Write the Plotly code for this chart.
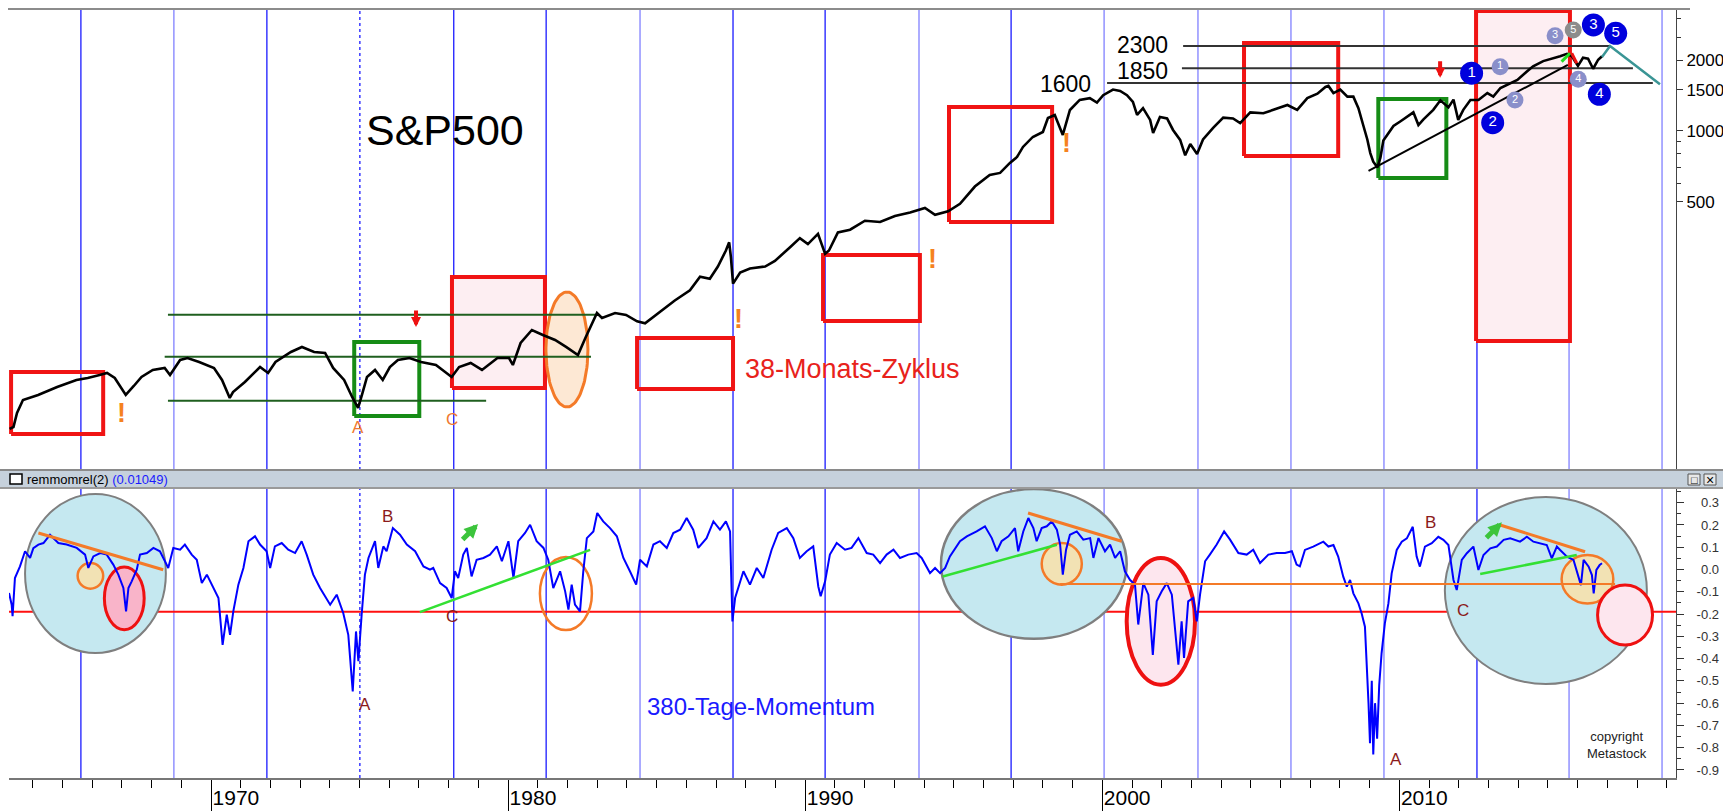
import numpy as np
import plotly.graph_objects as go

# ---------------- data ----------------
price_years = [1963.22, 1963.35, 1963.47, 1963.67, 1964.18, 1964.82, 1965.47, 1965.85, 1966.25, 1966.50,
               1966.76, 1967.13, 1967.40, 1967.66, 1968.04, 1968.44, 1968.62, 1968.96, 1969.21, 1969.60,
               1970.10, 1970.37, 1970.63, 1970.74, 1971.14, 1971.65, 1971.92, 1972.17, 1972.69, 1973.06,
               1973.47, 1973.84, 1974.11, 1974.48, 1974.75, 1974.95, 1975.08, 1975.25, 1975.52, 1975.78,
               1976.02, 1976.29, 1976.68, 1977.07, 1977.57, 1978.10, 1978.35, 1978.74, 1979.12, 1979.64,
               1980.03, 1980.16, 1980.42, 1980.80, 1981.17, 1981.58, 1981.95, 1982.35, 1982.60, 1982.99,
               1983.16, 1983.60, 1983.97, 1984.34, 1984.61, 1985.11, 1985.61, 1986.12, 1986.46, 1986.79,
               1987.06, 1987.33, 1987.44, 1987.50, 1987.57, 1987.81, 1988.14, 1988.65, 1988.98, 1989.49,
               1989.82, 1990.09, 1990.43, 1990.67, 1990.80, 1991.10, 1991.51, 1992.01, 1992.52, 1993.02,
               1993.53, 1994.03, 1994.37, 1994.81, 1995.21, 1995.71, 1996.21, 1996.56, 1996.89, 1997.13,
               1997.33, 1997.66, 1998.00, 1998.17, 1998.40, 1998.67, 1998.91, 1999.24, 1999.58, 1999.82,
               2000.03, 2000.36, 2000.60, 2000.83, 2001.03, 2001.17, 2001.37, 2001.61, 2001.71, 2001.94,
               2002.18, 2002.38, 2002.62, 2002.79, 2002.96, 2003.19, 2003.39, 2003.73, 2004.07, 2004.40,
               2004.64, 2004.98, 2005.42, 2005.76, 2006.23, 2006.56, 2006.90, 2007.24, 2007.51, 2007.61,
               2007.78, 2008.01, 2008.25, 2008.45, 2008.62, 2008.79, 2008.92, 2009.02, 2009.12, 2009.26,
               2009.36, 2009.46, 2009.80, 2010.04, 2010.27, 2010.47, 2010.64, 2010.81, 2011.14, 2011.38,
               2011.65, 2011.82, 2011.98, 2012.15, 2012.39, 2012.66, 2012.96, 2013.16, 2013.40, 2013.73,
               2013.97, 2014.30, 2014.50, 2014.84, 2015.17, 2015.41, 2015.64, 2015.81, 2015.91, 2016.01,
               2016.18, 2016.35, 2016.52, 2016.69, 2016.82]
price_values = [54.0, 55.0, 63.1, 71.7, 75.3, 81.4, 87.2, 88.9, 91.5, 93.4,
                88.9, 75.3, 82.2, 89.8, 96.2, 98.1, 91.5, 106.1, 108.1, 104.0,
                98.1, 87.2, 73.1, 77.5, 85.5, 99.0, 93.4, 104.0, 114.7, 120.5,
                114.7, 113.6, 98.1, 87.2, 73.8, 66.3, 75.3, 89.8, 96.2, 87.2,
                99.0, 106.1, 108.1, 104.0, 101.0, 89.8, 99.0, 103.0, 96.2, 108.1,
                108.1, 101.0, 125.3, 142.3, 135.5, 129.0, 120.5, 111.4, 131.5, 168.1,
                160, 168, 165, 155, 152, 170, 190, 210, 240, 235,
                265, 310, 336, 290, 224, 250, 260, 265, 280, 320,
                350, 330, 365, 300, 310, 370, 380, 415, 410, 435,
                450, 470, 440, 455, 490, 580, 650, 663, 731, 775,
                855, 943, 990, 1135, 1170, 962, 1228, 1355, 1380, 1320,
                1420, 1500, 1480, 1420, 1330, 1170, 1250, 1114, 980, 1147,
                1130, 1010, 916, 788, 880, 798, 920, 1030, 1140, 1130,
                1081, 1200, 1190, 1230, 1290, 1230, 1380, 1440, 1540, 1555,
                1450, 1500, 1400, 1400, 1250, 1050, 920, 805, 740, 700,
                770, 910, 1050, 1100, 1150, 1200, 1060, 1120, 1230, 1350,
                1260, 1360, 1114, 1230, 1355, 1355, 1450, 1400, 1524, 1600,
                1649, 1794, 1886, 1983, 2030, 2080, 2130, 2080, 1980, 1893,
                2050, 2030, 1840, 2010, 2080]

mom_years = [1963.20, 1963.29, 1963.32, 1963.40, 1963.57, 1963.74, 1963.91, 1964.02, 1964.19, 1964.36,
             1964.58, 1964.86, 1965.14, 1965.48, 1965.76, 1965.87, 1966.04, 1966.27, 1966.49, 1966.71,
             1966.88, 1967.05, 1967.14, 1967.22, 1967.33, 1967.50, 1967.61, 1967.84, 1968.06, 1968.28,
             1968.45, 1968.56, 1968.73, 1968.96, 1969.12, 1969.35, 1969.52, 1969.69, 1969.86, 1970.08,
             1970.25, 1970.39, 1970.53, 1970.64, 1970.75, 1970.92, 1971.09, 1971.26, 1971.48, 1971.65,
             1971.87, 1971.99, 1972.15, 1972.38, 1972.60, 1972.83, 1973.05, 1973.22, 1973.44, 1973.67,
             1974.01, 1974.23, 1974.45, 1974.62, 1974.77, 1974.88, 1974.96, 1975.07, 1975.18, 1975.30,
             1975.52, 1975.63, 1975.80, 1975.91, 1976.12, 1976.36, 1976.59, 1976.87, 1977.15, 1977.37,
             1977.48, 1977.71, 1977.93, 1978.10, 1978.21, 1978.32, 1978.49, 1978.61, 1978.77, 1978.94,
             1979.17, 1979.39, 1979.62, 1979.79, 1980.01, 1980.18, 1980.34, 1980.57, 1980.74, 1980.96,
             1981.19, 1981.35, 1981.52, 1981.75, 1981.92, 1982.03, 1982.14, 1982.25, 1982.42, 1982.53,
             1982.65, 1982.87, 1983.00, 1983.20, 1983.43, 1983.66, 1983.88, 1984.10, 1984.31, 1984.44,
             1984.67, 1984.89, 1985.11, 1985.34, 1985.56, 1985.79, 1986.01, 1986.23, 1986.40, 1986.68,
             1986.91, 1987.13, 1987.33, 1987.47, 1987.55, 1987.64, 1987.75, 1987.92, 1988.14, 1988.37,
             1988.59, 1988.70, 1988.87, 1989.09, 1989.38, 1989.60, 1989.82, 1990.05, 1990.27, 1990.44,
             1990.52, 1990.67, 1990.83, 1991.06, 1991.34, 1991.56, 1991.79, 1992.07, 1992.29, 1992.52,
             1992.74, 1992.97, 1993.19, 1993.47, 1993.75, 1993.92, 1994.09, 1994.20, 1994.37, 1994.54,
             1994.71, 1994.87, 1995.21, 1995.44, 1995.77, 1996.05, 1996.28, 1996.45, 1996.61, 1996.84,
             1997.06, 1997.17, 1997.34, 1997.51, 1997.68, 1997.79, 1997.96, 1998.13, 1998.30, 1998.47,
             1998.58, 1998.67, 1998.78, 1998.91, 1999.14, 1999.36, 1999.59, 1999.70, 1999.87, 2000.09,
             2000.26, 2000.43, 2000.60, 2000.76, 2000.93, 2001.10, 2001.21, 2001.38, 2001.55, 2001.70,
             2001.83, 2002.00, 2002.17, 2002.34, 2002.56, 2002.67, 2002.75, 2002.89, 2003.06, 2003.18,
             2003.29, 2003.46, 2003.62, 2003.85, 2004.10, 2004.30, 2004.58, 2004.86, 2005.08, 2005.31,
             2005.59, 2005.87, 2006.15, 2006.38, 2006.54, 2006.65, 2006.82, 2007.10, 2007.44, 2007.61,
             2007.78, 2007.94, 2008.11, 2008.23, 2008.34, 2008.45, 2008.62, 2008.73, 2008.84, 2008.90,
             2008.96, 2009.01, 2009.07, 2009.12, 2009.18, 2009.25, 2009.32, 2009.40, 2009.51, 2009.63,
             2009.74, 2009.91, 2010.08, 2010.25, 2010.45, 2010.58, 2010.69, 2010.86, 2011.09, 2011.31,
             2011.48, 2011.65, 2011.82, 2011.93, 2012.10, 2012.27, 2012.49, 2012.66, 2012.83, 2013.06,
             2013.28, 2013.51, 2013.73, 2014.06, 2014.29, 2014.51, 2014.74, 2014.96, 2015.13, 2015.30,
             2015.41, 2015.64, 2015.86, 2016.03, 2016.11, 2016.20, 2016.37, 2016.48, 2016.54, 2016.63,
             2016.74, 2016.82]
mom_values = [-0.105, -0.158, -0.210, -0.038, 0.014, 0.082, 0.052, 0.096, 0.112, 0.119,
              0.156, 0.119, 0.112, 0.097, 0.067, 0.007, 0.059, 0.074, 0.067, 0.022,
              -0.023, -0.083, -0.188, -0.083, -0.053, -0.001, 0.067, 0.074, 0.097, 0.082,
              0.037, 0.007, 0.097, 0.089, 0.112, 0.067, 0.044, -0.061, -0.023, -0.083,
              -0.128, -0.338, -0.203, -0.293, -0.188, -0.068, 0.007, 0.127, 0.149, 0.112,
              0.082, 0.007, 0.104, 0.119, 0.089, 0.074, 0.127, 0.067, -0.023, -0.083,
              -0.158, -0.113, -0.195, -0.293, -0.547, -0.278, -0.412, -0.203, -0.023, 0.052,
              0.127, 0.007, 0.104, 0.082, 0.186, 0.156, 0.112, 0.082, 0.014, -0.001,
              0.007, -0.061, -0.083, -0.128, -0.008, -0.038, 0.067, 0.097, -0.031, 0.044,
              0.052, 0.067, 0.104, 0.037, 0.127, -0.038, 0.127, 0.164, 0.201, 0.127,
              0.097, 0.044, -0.083, -0.008, -0.098, -0.180, -0.068, -0.158, -0.188, -0.008,
              0.141, 0.171, 0.254, 0.216, 0.186, 0.149, 0.052, -0.008, -0.068, 0.044,
              0.014, 0.112, 0.127, 0.097, 0.164, 0.179, 0.231, 0.179, 0.097, 0.141,
              0.216, 0.179, 0.216, 0.171, -0.233, -0.128, -0.083, -0.008, -0.068, 0.007,
              -0.038, 0.014, 0.089, 0.164, 0.186, 0.141, 0.052, 0.082, 0.104, -0.076,
              -0.120, -0.053, 0.067, 0.119, 0.089, 0.097, 0.141, 0.074, 0.067, 0.029,
              0.067, 0.089, 0.052, 0.067, 0.074, 0.052, 0.007, -0.016, 0.007, -0.016,
              0.007, 0.059, 0.127, 0.149, 0.171, 0.194, 0.141, 0.082, 0.127, 0.149,
              0.186, 0.082, 0.171, 0.231, 0.186, 0.127, 0.186, 0.194, 0.216, 0.179,
              0.112, -0.023, 0.089, 0.156, 0.171, 0.134, 0.141, 0.052, 0.141, 0.082,
              0.112, 0.052, 0.082, -0.008, -0.046, -0.068, -0.247, -0.061, -0.113, -0.383,
              -0.143, -0.098, -0.061, -0.113, -0.427, -0.233, -0.397, -0.143, -0.128, -0.233,
              -0.113, 0.037, 0.067, 0.112, 0.171, 0.134, 0.074, 0.067, 0.089, 0.029,
              0.067, 0.074, 0.074, 0.082, 0.022, 0.014, 0.088, 0.103, 0.125, 0.103,
              0.110, 0.058, -0.032, -0.077, -0.047, -0.107, -0.152, -0.197, -0.257, -0.410,
              -0.600, -0.780, -0.500, -0.830, -0.600, -0.760, -0.520, -0.376, -0.242, -0.152,
              -0.017, 0.088, 0.125, 0.140, 0.192, 0.058, 0.013, 0.103, 0.118, 0.147,
              0.133, 0.110, -0.047, -0.092, 0.043, 0.073, 0.103, -0.002, 0.065, 0.095,
              0.103, 0.133, 0.140, 0.125, 0.147, 0.125, 0.118, 0.110, 0.050, 0.103,
              0.088, 0.058, 0.043, -0.032, -0.070, 0.043, 0.013, -0.025, -0.107, -0.002,
              0.020, 0.028]

cycle_years = [1965.62, 1968.75, 1971.88, 1975.01, 1978.17, 1981.28, 1984.44, 1987.57, 1990.67,
               1993.83, 1996.93, 2000.06, 2003.22, 2006.35, 2009.48, 2012.61, 2015.71, 2018.84]
cycle_light = [False, True, False, False, False, False, True, False, False,
               True, False, True, True, True, True, False, True, True]
cycle_dotted = [False, False, False, True] + [False] * 14

year_ticks = [1970, 1980, 1990, 2000, 2010]
year_labels = ["1970", "1980", "1990", "2000", "2010"]
price_ticks = [500, 1000, 1500, 2000]
price_labels = ["500", "1000", "1500", "2000"]
mom_ticks = [0.3, 0.2, 0.1, 0.0, -0.1, -0.2, -0.3, -0.4, -0.5, -0.6, -0.7, -0.8, -0.9]

level_values = [2300, 1850, 1600]
level_start = [2002.72, 2002.68, 2000.16]
level_end = [2017.09, 2017.86, 2018.53]
level_labels = ["2300", "1850", "1600"]
level_label_x = [2002.28, 2002.28, 1999.69]

channel_values = [165.3, 109.5, 71.2]
channel_start = [1968.55, 1968.44, 1968.55]
channel_end = [1982.96, 1982.79, 1979.26]

box_x0 = [1963.27, 1974.82, 1978.11, 1984.34, 1990.60, 1994.84, 2004.77, 2009.29, 2012.58]
box_x1 = [1966.37, 1977.01, 1981.24, 1987.57, 1993.86, 1998.31, 2007.94, 2011.58, 2015.74]
box_low = [51.4, 61.3, 80.6, 79.8, 155.4, 410.1, 782.8, 631, 127.8]
box_high = [94.3, 126.5, 239.2, 131.5, 296.8, 1265.6, 2368, 1368, 3240]
box_kind = ["red", "green", "pink", "red", "red", "red", "red", "green", "pink"]

trend_years = [2008.96, 2015.67]
trend_values = [676, 1909]
proj_years = [2016.82, 2017.09, 2018.77]
proj_values = [2065, 2300, 1580]

wave_blue_years = [2012.43, 2013.14, 2016.53, 2016.73, 2017.28]
wave_blue_values = [1761, 1085, 2825, 1433, 2604]
wave_blue_labels = ["1", "2", "3", "4", "5"]
wave_light_years = [2013.39, 2013.89, 2015.24, 2016.02]
wave_light_values = [1878, 1355, 2544, 1660]
wave_light_labels = ["1", "2", "3", "4"]
wave_gray_years = [2015.85]
wave_gray_values = [2690]
wave_gray_labels = ["5"]

# ---------------- layout helpers ----------------
W, H = 1723, 811
ML, MR, MT, MB = 9, 47, 0, 33
PW, PH = W - ML - MR, H - MT - MB
def px(x):
    return (x - ML) / PW
def py(y):
    return 1 - (y - MT) / PH

FONT = "Arial, Liberation Sans, sans-serif"
RED = "#f01414"
GREEN = "#168c16"
PINK = "#fdeef2"

fig = go.Figure()

# top panel boxes (drawn under the price line)
for x0, x1, lo, hi, kind in zip(box_x0, box_x1, box_low, box_high, box_kind):
    col = GREEN if kind == "green" else RED
    fig.add_trace(go.Scatter(
        x=[x0, x1, x1, x0, x0], y=[lo, lo, hi, hi, lo], mode="lines",
        line=dict(color=col, width=4), fill="toself" if kind == "pink" else None,
        fillcolor=PINK, hoverinfo="skip", showlegend=False, xaxis="x", yaxis="y"))

# orange ellipse (1981/82)
t = np.linspace(0, 2 * np.pi, 100)
ell_x = 1981.98 + 0.707 * np.cos(t)
ell_y = 10 ** (2.0702 + 0.2447 * np.sin(t))
fig.add_trace(go.Scatter(x=ell_x, y=ell_y, mode="lines", line=dict(color="#f47a28", width=3),
                         fill="toself", fillcolor="rgba(253,228,205,0.85)", hoverinfo="skip",
                         showlegend=False, xaxis="x", yaxis="y"))

# channel lines (dark green)
for v, a, b in zip(channel_values, channel_start, channel_end):
    fig.add_trace(go.Scatter(x=[a, b], y=[v, v], mode="lines", line=dict(color="#1f5f1f", width=2),
                             hoverinfo="skip", showlegend=False, xaxis="x", yaxis="y"))

# resistance lines
for v, a, b in zip(level_values, level_start, level_end):
    fig.add_trace(go.Scatter(x=[a, b], y=[v, v], mode="lines", line=dict(color="#333333", width=2),
                             hoverinfo="skip", showlegend=False, xaxis="x", yaxis="y"))

# price
fig.add_trace(go.Scatter(x=price_years, y=price_values, mode="lines",
                         line=dict(color="black", width=2.6), showlegend=False, xaxis="x", yaxis="y"))

# trend line & projection
fig.add_trace(go.Scatter(x=trend_years, y=trend_values, mode="lines", line=dict(color="black", width=2),
                         showlegend=False, xaxis="x", yaxis="y"))
fig.add_trace(go.Scatter(x=proj_years, y=proj_values, mode="lines", line=dict(color="#3a9595", width=2.5),
                         showlegend=False, xaxis="x", yaxis="y"))
fig.add_trace(go.Scatter(x=[2015.46, 2015.74], y=[1972, 2142], mode="lines",
                         line=dict(color="#22dd22", width=3), showlegend=False, xaxis="x", yaxis="y"))
fig.add_trace(go.Scatter(x=[2015.80, 2015.97], y=[2142, 1941], mode="lines",
                         line=dict(color="#ee1111", width=3), showlegend=False, xaxis="x", yaxis="y"))

# wave count markers
for xs, ys, labs, col, size, fsize in [
        (wave_light_years, wave_light_values, wave_light_labels, "#8a8fca", 17, 11),
        (wave_gray_years, wave_gray_values, wave_gray_labels, "#8c8c8c", 17, 11),
        (wave_blue_years, wave_blue_values, wave_blue_labels, "#0000dd", 23, 15)]:
    fig.add_trace(go.Scatter(x=xs, y=ys, mode="markers+text", text=labs, textposition="middle center",
                             marker=dict(size=size, color=col, line=dict(width=0)),
                             textfont=dict(color="white", size=fsize, family="Arial Black, " + FONT),
                             showlegend=False, xaxis="x", yaxis="y"))

# momentum
fig.add_trace(go.Scatter(x=mom_years, y=mom_values, mode="lines", line=dict(color="#0000ff", width=2),
                         showlegend=False, xaxis="x", yaxis="y2"))

shapes = []
# lower panel ellipses
def ell(x0, x1, y0, y1, fill, line, width=2):
    shapes.append(dict(type="circle", xref="x", yref="y2", x0=x0, x1=x1, y0=y0, y1=y1,
                       fillcolor=fill, line=dict(color=line, width=width), layer="below"))
LB = "#c5e8f0"
ell(1963.74, 1968.48, -0.375, 0.339, LB, "#7f7f7f")
ell(1994.57, 2000.82, -0.311, 0.361, LB, "#7f7f7f", 2.5)
ell(2011.53, 2018.33, -0.514, 0.326, LB, "#7f7f7f")
ell(1965.51, 1966.37, -0.086, 0.029, "#f2e2b4", "#f47a28", 2.5)
ell(1966.41, 1967.75, -0.270, 0.011, "#f9b4c9", "#ee1111", 3)
ell(1981.07, 1982.82, -0.272, 0.056, "rgba(0,0,0,0)", "#f47a28", 2.5)
ell(1997.96, 1999.31, -0.068, 0.119, "#f2e2b4", "#f47a28", 2.5)
ell(2000.82, 2003.12, -0.517, 0.052, "#fde6ee", "#ee1111", 4)
ell(2015.46, 2017.20, -0.152, 0.065, "#f2e2b4", "#f47a28", 2.5)
ell(2016.67, 2018.52, -0.339, -0.070, "#fde6ee", "#ee1111", 3)

# cycle lines
for cx, light, dot in zip(cycle_years, cycle_light, cycle_dotted):
    col = "#8080ff" if light else "#1a1aff"
    for yr in ["y domain", "y2 domain"]:
        shapes.append(dict(type="line", xref="x", yref=yr, x0=cx, x1=cx, y0=0, y1=1, layer="below",
                           line=dict(color=col, width=1.3, dash="dot" if dot else "solid")))

# red threshold line
shapes.append(dict(type="line", xref="paper", yref="y2", x0=0, x1=1, y0=-0.19, y1=-0.19, layer="below",
                   line=dict(color="#ff1010", width=2)))

# orange / green trend lines in lower panel
def seg(x0, y0, x1, y1, col, w=3):
    shapes.append(dict(type="line", xref="x", yref="y2", x0=x0, y0=y0, x1=x1, y1=y1, layer="above",
                       line=dict(color=col, width=w)))
OR = "#f47a28"
LG = "#33e033"
seg(1964.19, 0.164, 1968.39, -0.001, OR)
seg(1977.03, -0.191, 1982.76, 0.088, LG, 2.5)
seg(1994.63, -0.031, 1998.47, 0.111, LG, 2.5)
seg(1997.50, 0.254, 2000.65, 0.127, OR)
seg(1998.58, -0.065, 2017.26, -0.065, OR, 2)
seg(2012.72, -0.020, 2015.97, 0.065, LG, 2.5)
seg(2013.39, 0.200, 2016.25, 0.080, OR)

# top border line
shapes.append(dict(type="line", xref="paper", yref="paper", x0=px(8), x1=px(1690), y0=py(9), y1=py(9),
                   line=dict(color="#8c8c8c", width=2), layer="above"))
# header bar of the lower pane
shapes.append(dict(type="rect", xref="paper", yref="paper", x0=px(0), x1=px(W), y0=py(488), y1=py(470),
                   fillcolor="#c6d1dc", line=dict(width=0), layer="above"))
shapes.append(dict(type="line", xref="paper", yref="paper", x0=px(0), x1=px(W), y0=py(470), y1=py(470),
                   line=dict(color="#8a8a8a", width=2), layer="above"))
shapes.append(dict(type="line", xref="paper", yref="paper", x0=px(0), x1=px(W), y0=py(488), y1=py(488),
                   line=dict(color="#9a9a9a", width=2), layer="above"))
shapes.append(dict(type="rect", xref="paper", yref="paper", x0=px(10), x1=px(22), y0=py(484), y1=py(474),
                   fillcolor="white", line=dict(color="black", width=1.5), layer="above"))
for bx in [1688, 1704]:
    shapes.append(dict(type="rect", xref="paper", yref="paper", x0=px(bx), x1=px(bx + 12), y0=py(485),
                       y1=py(474), fillcolor="#e8e8e8", line=dict(color="#555", width=1), layer="above"))

annotations = []
def ann(text, x, y, xref="x", yref="y", size=16, color="black", xanchor="center", yanchor="middle", **kw):
    annotations.append(dict(text=text, x=x, y=y, xref=xref, yref=yref, showarrow=False,
                            font=dict(size=size, color=color, family=kw.pop("family", FONT)),
                            xanchor=xanchor, yanchor=yanchor, **kw))

ann("remmomrel(2) <span style='color:#1a1aff'>(0.01049)</span>", px(25), py(479), "paper", "paper",
    size=13, xanchor="left")
ann("□", px(1694), py(479.5), "paper", "paper", size=11)
ann("×", px(1710), py(479.5), "paper", "paper", size=14)

# top panel texts (log axis -> log10 positions)
ann("S&P500", 1977.87, 3.004, size=43)
ann("38-Monats-Zyklus", 1987.91, 1.987, size=27, color="#e8221b", xanchor="left")
for lab, lx, v, dy in zip(level_labels, level_label_x, level_values, [0.006, -0.012, -0.005]):
    ann(lab, lx, np.log10(v) + dy, size=23, xanchor="right")
for ex, ey in [(1966.97, 1.80), (1987.75, 2.20), (1994.27, 2.455), (1998.78, 2.949)]:
    ann("<b>!</b>", ex, ey, size=27, color="#f5821f")
ann("A", 1974.95, 1.740, size=17, color="#f07830")
ann("C", 1978.11, 1.772, size=17, color="#f07830")
for ax_, ay_ in [(1976.90, 2.166), (2011.37, 3.226)]:
    annotations.append(dict(x=ax_, y=ay_, xref="x", yref="y", showarrow=True, ax=0, ay=-18, text="",
                            arrowhead=2, arrowsize=0.5, arrowwidth=4, arrowcolor="#ee1111"))

# lower panel texts
DR = "#8b1a1a"
ann("B", 1975.93, 0.236, yref="y2", size=17, color=DR)
ann("A", 1975.19, -0.608, yref="y2", size=17, color=DR)
ann("C", 1978.11, -0.213, yref="y2", size=17, color=DR)
ann("B", 2011.06, 0.209, yref="y2", size=17, color=DR)
ann("C", 2012.14, -0.182, yref="y2", size=17, color=DR)
ann("A", 2009.88, -0.851, yref="y2", size=17, color=DR)
ann("380-Tage-Momentum", 1988.50, -0.613, yref="y2", size=24, color="#1a1aff")
ann("copyright<br>Metastock", 2017.32, -0.790, yref="y2", size=13, color="#222222")
for gx, gy in [(1978.99, 0.204), (2013.45, 0.212)]:
    annotations.append(dict(x=gx, y=gy, xref="x", yref="y2", showarrow=True, ax=-17, ay=17, text="",
                            arrowhead=2, arrowsize=0.55, arrowwidth=5, arrowcolor="#3cc43c"))

def pad(v):
    s = "%.1f" % v
    return s if v < 0 else "\u2004" + s

fig.update_layout(
    width=W, height=H, margin=dict(l=ML, r=MR, t=MT, b=MB),
    paper_bgcolor="white", plot_bgcolor="white", showlegend=False,
    font=dict(family=FONT, color="black"),
    shapes=shapes, annotations=annotations,
    xaxis=dict(domain=[0, 1], range=[1963.20, 2019.31], anchor="y2", showgrid=False, zeroline=False,
               tickmode="array", tickvals=year_ticks, ticktext=year_labels, ticks="outside", ticklen=33,
               tickcolor="black", tickwidth=1, ticklabelposition="outside right",
               tickfont=dict(size=21, color="black"), showline=True, linecolor="#777777", linewidth=2,
               minor=dict(tickmode="array", tickvals=list(range(1964, 2020)), ticks="outside", ticklen=8,
                          tickcolor="black")),
    yaxis=dict(domain=[py(470), py(9)], type="log", range=[1.5574, 3.519], side="right", anchor="x",
               showgrid=False, zeroline=False, tickmode="array", tickvals=price_ticks, ticktext=price_labels,
               ticks="outside", ticklen=6, tickcolor="#333", tickfont=dict(size=17, color="black"),
               showline=True, linecolor="#444", linewidth=1,
               minor=dict(tickmode="array", tickvals=[600, 700, 800, 900, 2500, 3000], ticks="outside",
                          ticklen=4, tickcolor="#333")),
    yaxis2=dict(domain=[0, py(488)], range=[-0.936, 0.366], side="right", anchor="x", showgrid=False,
                zeroline=False, tickmode="array", tickvals=mom_ticks, ticktext=[pad(v) for v in mom_ticks],
                ticks="outside", ticklen=7, tickcolor="#333", tickfont=dict(size=13, color="#333"),
                ticklabelstandoff=10, showline=True, linecolor="#444", linewidth=1,
                minor=dict(tickmode="array", tickvals=[round(0.35 - 0.1 * i, 2) for i in range(13)],
                           ticks="outside", ticklen=4, tickcolor="#333")),
)

fig.write_html("out.html", config={"displayModeBar": False},
               post_script="document.body.style.margin='0';document.body.style.overflow='hidden';")
